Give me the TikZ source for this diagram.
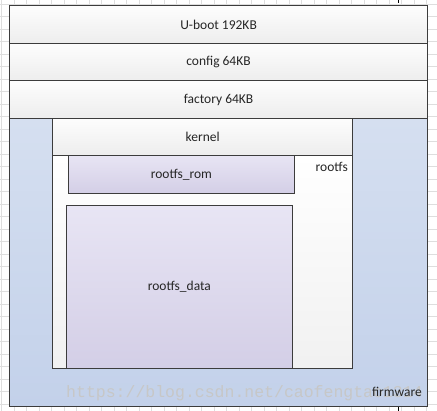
\documentclass[tikz,border=0pt]{standalone}
\usepackage{fontspec}
\setmainfont{Carlito}
\newfontfamily\wmfont{Liberation Mono}
\definecolor{edge}{HTML}{3C3C3C}
\definecolor{gridc}{HTML}{DEDEDE}
\definecolor{graytop}{HTML}{FDFDFD}
\definecolor{graybot}{HTML}{EDEDED}
\definecolor{bluetop}{HTML}{D5DFF0}
\definecolor{bluebot}{HTML}{C3D1EA}
\definecolor{lavtop}{HTML}{E8E5F4}
\definecolor{lavbot}{HTML}{D3CEE6}
\begin{document}
\begin{tikzpicture}[x=1pt,y=-1pt,
  blk/.style={draw=edge, line width=0.8pt, inner sep=0pt, anchor=north west},
  grayblk/.style={blk, top color=graytop, bottom color=graybot},
  blueblk/.style={blk, top color=bluetop, bottom color=bluebot},
  lavblk/.style={blk, top color=lavtop, bottom color=lavbot},
  lbl/.style={inner sep=0pt, text=black!85, font=\fontsize{13.5}{15}\selectfont}]
\useasboundingbox (0,0) rectangle (437,411);
% background grid
\foreach \x in {1.7,14.2,...,437} \draw[gridc, line width=0.5pt] (\x,0) -- (\x,411);
\foreach \y in {4.2,16.7,...,411} \draw[gridc, line width=0.5pt] (0,\y) -- (437,\y);
% page marks
\draw[black, line width=0.6pt] (398,0) -- (398,3);
\draw[black, line width=0.6pt] (398,405) -- (398,411);
% top partitions
\node[grayblk, minimum width=417.7pt, minimum height=38pt] (uboot) at (9.3,5.3) {};
\node[lbl] at (uboot.center) {U-boot 192KB};
\node[grayblk, minimum width=417.7pt, minimum height=37pt] (config) at (9.3,43.3) {};
\node[lbl] at (config.center) {config 64KB};
\node[grayblk, minimum width=417.7pt, minimum height=37.7pt] (factory) at (9.3,80.3) {};
\node[lbl] at (factory.center) {factory 64KB};
% firmware
\node[blueblk, minimum width=417.7pt, minimum height=287.7pt] (firmware) at (9.3,118) {};
% rootfs
\node[grayblk, top color=white, bottom color=graybot!80, minimum width=300pt, minimum height=213.3pt] (rootfs) at (52.3,155) {};
% kernel
\node[grayblk, minimum width=300pt, minimum height=37pt] (kernel) at (52.3,118) {};
\node[lbl] at (kernel.center) {kernel};
% rootfs parts
\node[lavblk, minimum width=225.4pt, minimum height=38.3pt] (rom) at (68.3,155) {};
\node[lbl] at (rom.center) {rootfs\_rom};
\node[lavblk, minimum width=225.4pt, minimum height=163pt] (data) at (66.3,205.3) {};
\node[lbl] at (data.center) {rootfs\_data};
\node[lbl, anchor=base east] (rootfslbl) at (348,172) {rootfs};
% watermark
\node[inner sep=0pt, anchor=base west, text=black!22, font=\wmfont\fontsize{16.5}{18}\selectfont] (wm) at (66,398) {https://blog.csdn.net/caofengtao1314};
\node[lbl, anchor=base east] (fwlbl) at (422,397) {firmware};
\end{tikzpicture}
\end{document}
